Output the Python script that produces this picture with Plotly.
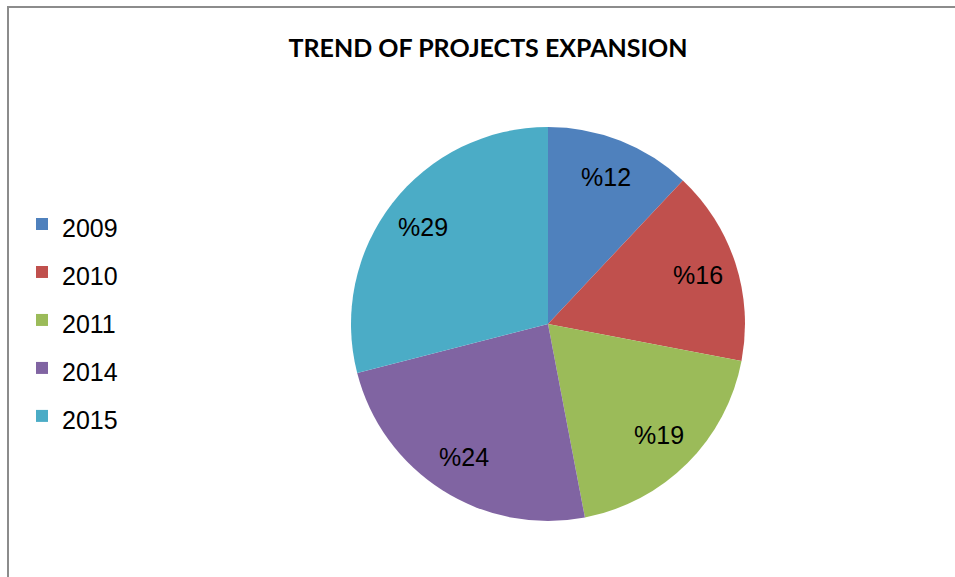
import math
import plotly.graph_objects as go

W, H = 955, 577

years = ["2009", "2010", "2011", "2014", "2015"]
shares = [12, 16, 19, 24, 29]
colors = ["#4F81BD", "#C0504D", "#9BBB59", "#8064A2", "#4BACC6"]
title_text = "TREND OF PROJECTS EXPANSION"

legend_labels = ['<span style="font-size:25px">%s</span>' % y for y in years]

# pie placement (window pixels)
cx, cy, r = 548, 324, 197
label_r = 0.8 * r

fig = go.Figure(go.Pie(
    labels=legend_labels,
    values=shares,
    marker=dict(colors=colors, line=dict(width=0)),
    sort=False,
    direction="clockwise",
    rotation=0,
    textinfo="none",
    hoverinfo="label+value",
    domain=dict(x=[(cx - r) / W, (cx + r) / W],
                y=[(H - cy - r) / H, (H - cy + r) / H]),
))

# data labels, placed at 80% of the radius on each slice's mid angle
total = sum(shares)
annotations = []
cum = 0
for v in shares:
    mid = (cum + v / 2) / total * 2 * math.pi
    cum += v
    px = cx + label_r * math.sin(mid)
    py = cy - label_r * math.cos(mid)
    annotations.append(dict(
        x=px / W, y=1 - py / H, xref="paper", yref="paper",
        text="%%%d" % v, showarrow=False, xanchor="center", yanchor="middle",
        font=dict(family="Liberation Sans, Arial", size=25, color="black"),
    ))

fig.update_layout(
    width=W, height=H,
    margin=dict(l=0, r=0, t=0, b=0),
    paper_bgcolor="white",
    plot_bgcolor="white",
    title=dict(text="<b>%s</b>" % title_text, x=488 / W, xanchor="center",
               y=1 - 48 / H, yanchor="middle",
               font=dict(family="Lato, Open Sans, sans-serif", size=25, color="black")),
    legend=dict(x=22 / W, xanchor="left", y=1 - 195 / H, yanchor="top",
                font=dict(family="Liberation Sans, Arial", size=34.6, color="black"),
                bgcolor="rgba(0,0,0,0)"),
    annotations=annotations,
    shapes=[
        dict(type="line", xref="paper", yref="paper",
             x0=8 / W, x1=8 / W, y0=0, y1=1 - 6 / H,
             line=dict(color="#8c8c8c", width=2), layer="below"),
        dict(type="line", xref="paper", yref="paper",
             x0=7 / W, x1=1, y0=1 - 7 / H, y1=1 - 7 / H,
             line=dict(color="#8c8c8c", width=2), layer="below"),
    ],
)

fig.write_html("out.html",
               config={"displayModeBar": False},
               post_script="document.body.style.margin='0px';document.body.style.overflow='hidden';")
